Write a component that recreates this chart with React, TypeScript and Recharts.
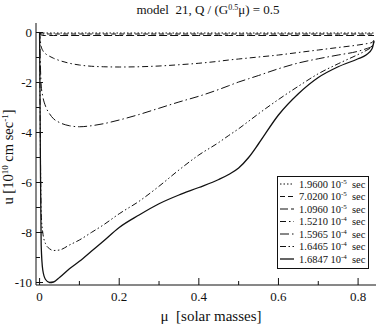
import React from "react";
import { LineChart, Line, XAxis, YAxis, Legend, Label } from "recharts";

// sample positions (solar masses)
const muValues = [
  0, 0.002, 0.004, 0.008, 0.015, 0.025, 0.035, 0.05, 0.075, 0.1, 0.13, 0.16, 0.2,
  0.25, 0.3, 0.35, 0.4, 0.45, 0.475, 0.5, 0.525, 0.55, 0.6, 0.65, 0.7, 0.75, 0.8, 0.82, 0.835, 0.84,
];

const s1 = [
  0, -0.01, -0.02, -0.02, -0.02, -0.02, -0.02, -0.02, -0.02, -0.02, -0.02, -0.02, -0.02,
  -0.02, -0.02, -0.02, -0.02, -0.02, -0.02, -0.02, -0.02, -0.02, -0.02, -0.02, -0.02, -0.02, -0.02, -0.02, -0.02, -0.02,
];
const s2 = [
  0, -0.03, -0.05, -0.06, -0.06, -0.06, -0.06, -0.06, -0.06, -0.06, -0.06, -0.06, -0.06,
  -0.06, -0.06, -0.06, -0.06, -0.06, -0.06, -0.06, -0.06, -0.06, -0.06, -0.06, -0.06, -0.06, -0.06, -0.06, -0.06, -0.06,
];
const s3 = [
  0, -0.06, -0.1, -0.12, -0.12, -0.12, -0.12, -0.12, -0.12, -0.12, -0.12, -0.12, -0.12,
  -0.12, -0.12, -0.12, -0.12, -0.12, -0.12, -0.12, -0.12, -0.12, -0.12, -0.12, -0.12, -0.12, -0.12, -0.12, -0.12, -0.12,
];
const s4 = [
  0, -0.35, -0.55, -0.72, -0.85, -0.95, -1.03, -1.12, -1.23, -1.3, -1.35, -1.37, -1.38,
  -1.37, -1.34, -1.29, -1.23, -1.15, -1.1, -1.06, -1.02, -0.98, -0.9, -0.8, -0.7, -0.6, -0.5, -0.45, -0.4, -0.3,
];
const s5 = [
  0, -1.3, -2.1, -2.55, -2.95, -3.25, -3.45, -3.6, -3.73, -3.77, -3.73, -3.65, -3.5,
  -3.28, -3.03, -2.78, -2.55, -2.28, -2.13, -1.98, -1.85, -1.72, -1.45, -1.22, -1.05, -0.9, -0.75, -0.65, -0.55, -0.35,
];
const s6 = [
  0, -4.5, -7.2, -8.0, -8.45, -8.65, -8.72, -8.7, -8.5, -8.3, -8.0, -7.7, -7.25,
  -6.75, -6.15, -5.5, -4.9, -4.4, -4.12, -3.85, -3.55, -3.25, -2.68, -2.15, -1.65, -1.25, -0.88, -0.72, -0.55, -0.35,
];
const s7 = [
  0, -5.0, -8.5, -9.5, -9.88, -10.0, -9.98, -9.8, -9.45, -9.15, -8.75, -8.35, -7.8,
  -7.3, -6.85, -6.5, -6.2, -5.88, -5.68, -5.42, -5.0, -4.45, -3.3, -2.45, -1.8, -1.37, -1.05, -0.9, -0.65, -0.35,
];

const seriesKeys = ["s1", "s2", "s3", "s4", "s5", "s6", "s7"];
const seriesValues = [s1, s2, s3, s4, s5, s6, s7];
const seriesMantissa = ["1.9600", "7.0200", "1.0960", "1.5210", "1.5965", "1.6465", "1.6847"];
const seriesExponent = ["-5", "-5", "-5", "-4", "-4", "-4", "-4"];
const seriesDash = ["1.5 2", "5 3", "8 3", "6 3 1.5 3", "9 3 1.5 3", "6 2.5 1.5 2.5 1.5 2.5", ""];
const seriesWidth = [1, 1, 1, 1, 1, 1, 1.3];

const xTicks = [0, 0.1, 0.2, 0.3, 0.4, 0.5, 0.6, 0.7, 0.8];
const yTicks = [-10, -9, -8, -7, -6, -5, -4, -3, -2, -1, 0];

const data = muValues.map((mu, i) => {
  const row: Record<string, number> = { mu };
  seriesKeys.forEach((k, j) => {
    row[k] = seriesValues[j][i];
  });
  return row;
});

const FONT = '"Liberation Serif", "Times New Roman", Times, "DejaVu Serif", serif';
const INK = "#111";
const txt = (size: number): React.CSSProperties => ({ fontFamily: FONT, fontSize: size });

const isMajorX = (v: number) => Math.round(v * 10) % 2 === 0;
const isMajorY = (v: number) => Math.round(v) % 2 === 0;

const XTickBottom = (props: any) => {
  const { x, y, payload } = props;
  const v = payload.value;
  const major = isMajorX(v);
  return (
    <g>
      <line x1={x} x2={x} y1={y} y2={y - (major ? 7 : 4)} stroke={INK} strokeWidth={1} />
      {major && (
        <text x={x} y={y + 16} textAnchor="middle" style={txt(13)} fill={INK}>
          {v === 0 ? "0" : v.toFixed(1)}
        </text>
      )}
    </g>
  );
};

const XTickTop = (props: any) => {
  const { x, y, payload } = props;
  const major = isMajorX(payload.value);
  return <line x1={x} x2={x} y1={y} y2={y + (major ? 7 : 4)} stroke={INK} strokeWidth={1} />;
};

const YTickLeft = (props: any) => {
  const { x, y, payload } = props;
  const v = payload.value;
  const major = isMajorY(v);
  return (
    <g>
      <line x1={x} x2={x + (major ? 7 : 4)} y1={y} y2={y} stroke={INK} strokeWidth={1} />
      {major && (
        <text x={x - 4} y={y + 4.5} textAnchor="end" style={txt(13)} fill={INK}>
          {String(v)}
        </text>
      )}
    </g>
  );
};

const YTickRight = (props: any) => {
  const { x, y, payload } = props;
  const major = isMajorY(payload.value);
  return <line x1={x} x2={x - (major ? 7 : 4)} y1={y} y2={y} stroke={INK} strokeWidth={1} />;
};

const XAxisTitles = (props: any) => {
  const vb = props.viewBox || { x: 36, width: 340, y: 285 };
  const cx = vb.x + vb.width / 2;
  return (
    <g>
      <text x={cx + 2} y={14} textAnchor="middle" style={txt(13)} fill={INK}>
        {"model\u00a0\u00a021, Q / (G"}
        <tspan dy={-4.5} style={txt(8)}>0.5</tspan>
        <tspan dy={4.5}>μ) = 0.5</tspan>
      </text>
      <text x={cx + 5} y={vb.y + 36} textAnchor="middle" style={txt(15)} fill={INK}>
        {"μ\u00a0\u00a0[solar masses]"}
      </text>
    </g>
  );
};

const YAxisTitle = (props: any) => {
  const vb = props.viewBox || { x: 0, y: 23, height: 262 };
  const cx = 13;
  const cy = vb.y + vb.height / 2 + 3;
  return (
    <text
      x={cx}
      y={cy}
      textAnchor="middle"
      transform={`rotate(-90, ${cx}, ${cy})`}
      style={txt(14.5)}
      fill={INK}
    >
      u [10
      <tspan dy={-5.5} style={txt(9)}>10</tspan>
      <tspan dy={5.5}> cm sec</tspan>
      <tspan dy={-5.5} style={txt(9)}>-1</tspan>
      <tspan dy={5.5}>]</tspan>
    </text>
  );
};

const LegendBox = () => {
  const rowH = 12.5;
  return (
    <svg width={93} height={94} style={{ display: "block" }}>
      <rect x={0.5} y={0.5} width={91} height={92} fill="#fff" stroke={INK} strokeWidth={1} />
      {seriesKeys.map((k, i) => {
        const cy = 8 + i * rowH;
        return (
          <g key={k}>
            <line
              x1={3}
              x2={17}
              y1={cy}
              y2={cy}
              stroke={INK}
              strokeWidth={seriesWidth[i]}
              strokeDasharray={seriesDash[i] || undefined}
            />
            <text x={22} y={cy + 3.5} style={txt(10.5)} fill={INK}>
              {seriesMantissa[i]} 10
              <tspan dy={-4} style={txt(7)}>{seriesExponent[i]}</tspan>
            </text>
            <text x={75} y={cy + 3.5} style={txt(10.5)} fill={INK}>
              sec
            </text>
          </g>
        );
      })}
    </svg>
  );
};

export default function App() {
  return (
    <div
      style={{
        position: "absolute",
        left: 0,
        top: 0,
        width: 382,
        height: 327,
        background: "#fff",
        fontFamily: FONT,
      }}
    >
      <LineChart width={382} height={327} data={data} margin={{ top: 23, right: 6, bottom: 0, left: 0 }}>
        <XAxis
          dataKey="mu"
          type="number"
          domain={[-0.009, 0.845]}
          ticks={xTicks}
          allowDataOverflow
          height={42}
          tickSize={0}
          tickMargin={0}
          tickLine={false}
          axisLine={{ stroke: INK, strokeWidth: 1 }}
          tick={<XTickBottom />}
          interval={0}
        >
          <Label content={<XAxisTitles />} />
        </XAxis>
        <XAxis
          xAxisId="top"
          orientation="top"
          dataKey="mu"
          type="number"
          domain={[-0.009, 0.845]}
          ticks={xTicks}
          allowDataOverflow
          height={0}
          tickSize={0}
          tickMargin={0}
          tickLine={false}
          axisLine={{ stroke: INK, strokeWidth: 1 }}
          tick={<XTickTop />}
          interval={0}
        />
        <YAxis
          type="number"
          domain={[-10.1, 0.38]}
          ticks={yTicks}
          allowDataOverflow
          width={36}
          tickSize={0}
          tickMargin={0}
          tickLine={false}
          axisLine={{ stroke: INK, strokeWidth: 1 }}
          tick={<YTickLeft />}
          interval={0}
        >
          <Label content={<YAxisTitle />} />
        </YAxis>
        <YAxis
          yAxisId="right"
          orientation="right"
          type="number"
          domain={[-10.1, 0.38]}
          ticks={yTicks}
          allowDataOverflow
          width={0}
          tickSize={0}
          tickMargin={0}
          tickLine={false}
          axisLine={{ stroke: INK, strokeWidth: 1 }}
          tick={<YTickRight />}
          interval={0}
        />
        {seriesKeys.map((k, i) => (
          <Line
            key={k}
            dataKey={k}
            type="monotone"
            stroke={INK}
            strokeWidth={seriesWidth[i]}
            strokeDasharray={seriesDash[i] || undefined}
            dot={false}
            activeDot={false}
            isAnimationActive={false}
          />
        ))}
        <Legend
          layout="horizontal"
          verticalAlign="middle"
          align="center"
          content={<LegendBox />}
          wrapperStyle={{ position: "absolute", left: 277, top: 176, width: 93, height: 94, margin: 0 }}
        />
      </LineChart>
    </div>
  );
}
